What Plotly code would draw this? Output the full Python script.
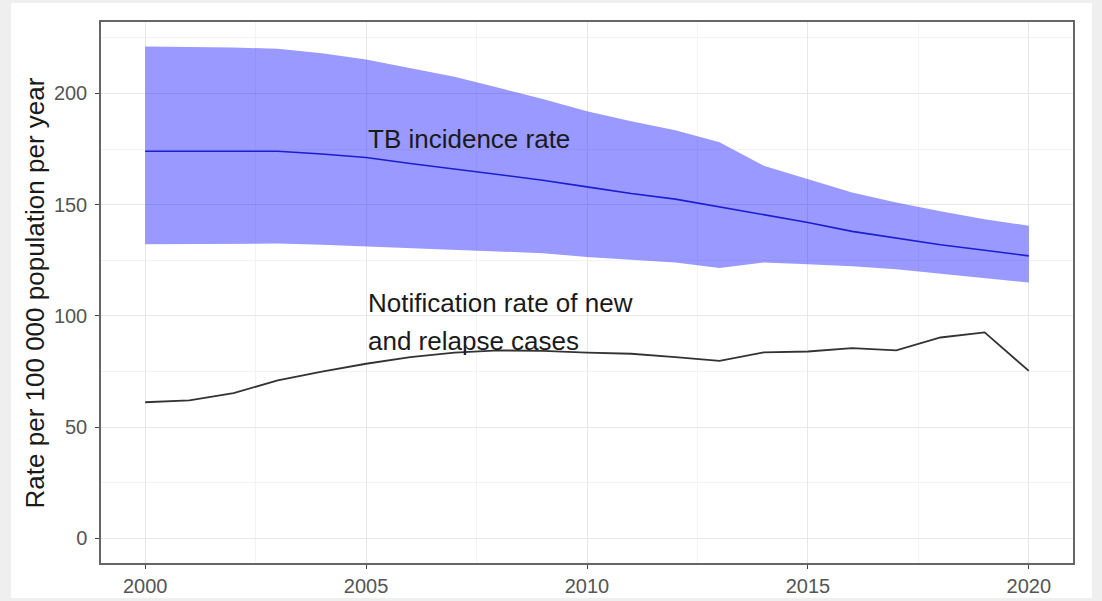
import plotly.graph_objects as go

# Years covered
years = list(range(2000, 2021))

# Estimated TB incidence rate (per 100 000 population per year) with uncertainty bounds
incidence_best = [174, 174, 174, 174, 172.8, 171.2, 168.5, 166, 163.5, 161, 158,
                  155, 152.5, 149, 145.5, 142, 138, 135, 132, 129.5, 127]
incidence_low = [132.2, 132.3, 132.5, 132.5, 132, 131.3, 130.5, 129.8, 129, 128.2, 126.5,
                 125.3, 124, 121.5, 124, 123.2, 122.3, 121, 119, 117, 115]
incidence_high = [221.1, 221, 220.6, 220.1, 218, 215.2, 211.5, 207.5, 202.5, 197.5, 192,
                  187.5, 183.5, 178, 167.5, 161.5, 155.5, 151, 147, 143.5, 140.5]

# Notification rate of new and relapse cases
notified = [61.2, 62, 65.3, 71, 75, 78.5, 81.5, 83.5, 84.5, 84.3, 83.5,
            83, 81.5, 79.8, 83.6, 84, 85.5, 84.5, 90.3, 92.6, 75.3]

x_ticks = [2000, 2005, 2010, 2015, 2020]
y_ticks = [0, 50, 100, 150, 200]

FONT = "Liberation Sans, Arial, Helvetica, sans-serif"

fig = go.Figure()

# Uncertainty band
fig.add_trace(go.Scatter(x=years, y=incidence_low, mode="lines",
                         line=dict(width=0, color="rgba(0,0,255,0)"),
                         hoverinfo="skip", showlegend=False))
fig.add_trace(go.Scatter(x=years, y=incidence_high, mode="lines",
                         line=dict(width=0, color="rgba(0,0,255,0)"),
                         fill="tonexty", fillcolor="rgba(0,0,255,0.4)",
                         hoverinfo="skip", showlegend=False))
# Best estimate
fig.add_trace(go.Scatter(x=years, y=incidence_best, mode="lines",
                         line=dict(width=1.6, color="#1c1cd0"), showlegend=False))
# Notifications
fig.add_trace(go.Scatter(x=years, y=notified, mode="lines",
                         line=dict(width=1.8, color="#333333"), showlegend=False))

# Series labels
label_font = dict(family=FONT, size=26, color="#1a1a1a")
fig.add_annotation(x=2005, y=179.7, text="TB incidence rate", showarrow=False,
                   xanchor="left", yanchor="middle", font=label_font)
fig.add_annotation(x=2005, y=105.9, text="Notification rate of new", showarrow=False,
                   xanchor="left", yanchor="middle", font=label_font)
fig.add_annotation(x=2005, y=88.8, text="and relapse cases", showarrow=False,
                   xanchor="left", yanchor="middle", font=label_font)

# Y-axis title
fig.add_annotation(x=-0.068, y=0.5, xref="paper", yref="paper",
                   text="Rate per 100 000 population per year", textangle=-90,
                   showarrow=False, xanchor="center", yanchor="middle",
                   font=dict(family=FONT, size=26, color="#1a1a1a"))

# White card behind the chart
fig.add_shape(type="rect", xref="paper", yref="paper",
              x0=-0.0926, x1=1.0195, y0=-0.0647, y1=1.0351,
              fillcolor="white", line=dict(width=0), layer="below")

axis_common = dict(
    showline=True, mirror=True, linecolor="#666666", linewidth=1.5,
    ticks="outside", ticklen=4, tickwidth=1.3, tickcolor="#444444",
    showgrid=True, gridcolor="#e8e8e8", gridwidth=1.2,
    zeroline=False, automargin=False,
    tickfont=dict(family=FONT, size=20, color="#555555"),
)

fig.update_xaxes(range=[1999, 2021], tickvals=x_ticks,
                 minor=dict(dtick=2.5, tick0=2000, showgrid=True,
                            gridcolor="#f3f3f3", gridwidth=0.8, ticks=""),
                 ticklabelstandoff=0,
                 **axis_common)
fig.update_yaxes(range=[-11.05, 232.1], tickvals=y_ticks,
                 minor=dict(dtick=25, tick0=0, showgrid=True,
                            gridcolor="#f3f3f3", gridwidth=0.8, ticks=""),
                 ticklabelstandoff=4,
                 **axis_common)

fig.update_layout(
    width=1102, height=601,
    margin=dict(l=101, r=29, t=22, b=38),
    paper_bgcolor="#efefef",
    plot_bgcolor="white",
    showlegend=False,
)

fig.write_html("out.html")
